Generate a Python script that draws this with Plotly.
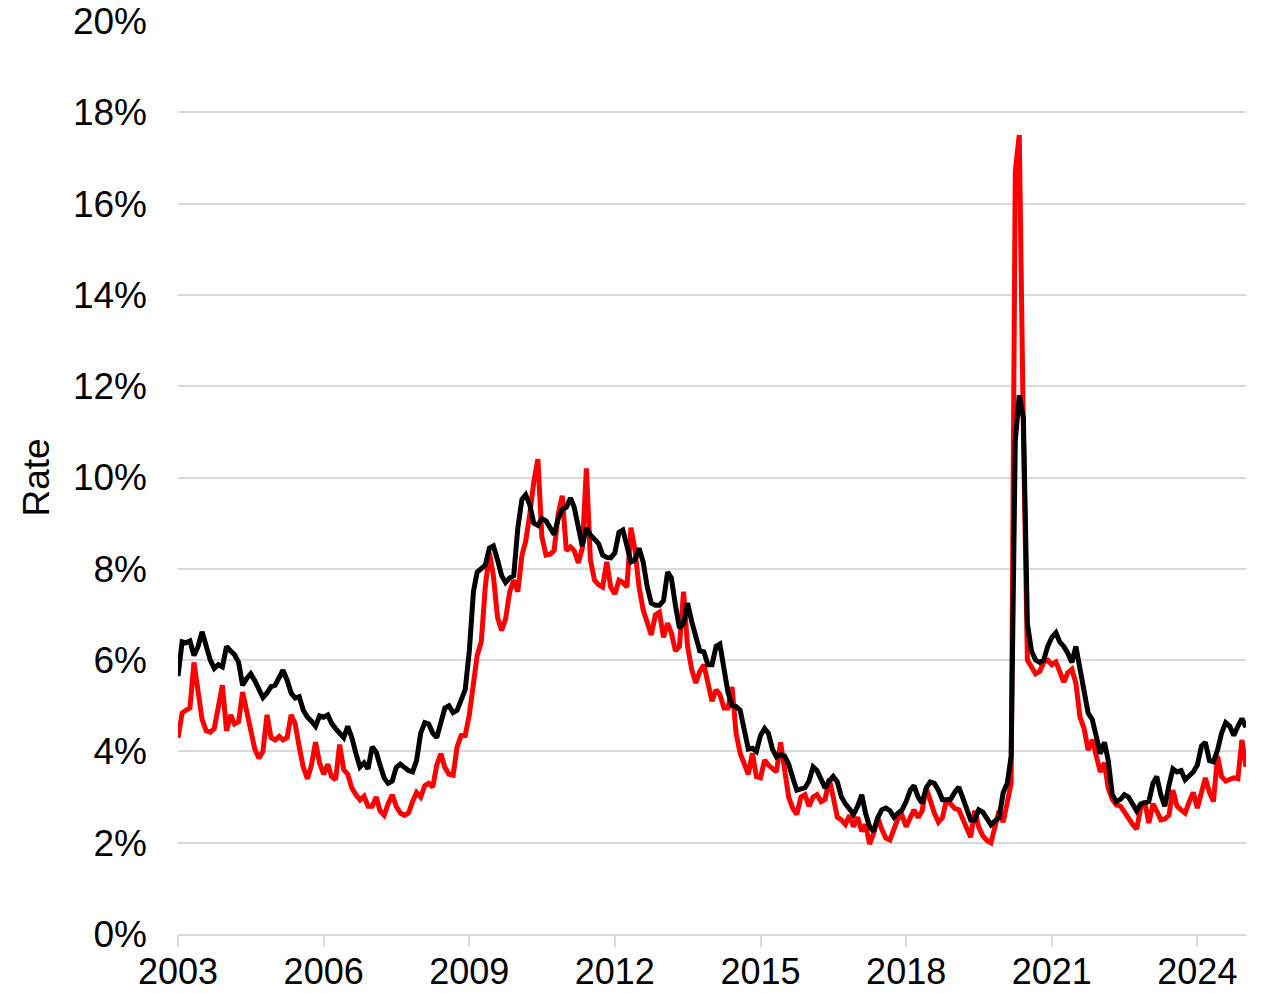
import pandas as pd
import plotly.graph_objects as go

start_month = "2003-01-01"

black_rate = [
    5.65, 6.4, 6.38, 6.42, 6.1, 6.3, 6.62, 6.3, 6.0, 5.82, 5.9, 5.85,
    6.3, 6.2, 6.12, 5.95, 5.45, 5.6, 5.7, 5.55, 5.35, 5.18, 5.28, 5.42,
    5.45, 5.62, 5.78, 5.56, 5.28, 5.17, 5.2, 4.9, 4.75, 4.66, 4.55, 4.78,
    4.75, 4.8, 4.62, 4.5, 4.4, 4.3, 4.55, 4.3, 3.95, 3.66, 3.75, 3.62,
    4.1, 3.98, 3.7, 3.42, 3.3, 3.35, 3.65, 3.72, 3.65, 3.58, 3.55, 3.8,
    4.4, 4.63, 4.6, 4.4, 4.3, 4.6, 4.95, 5.0, 4.85, 4.9, 5.15, 5.35,
    6.2, 7.5, 7.93, 8.0, 8.08, 8.45, 8.5, 8.2, 7.85, 7.7, 7.8, 7.85,
    8.9, 9.52, 9.62, 9.4, 9.0, 8.95, 9.1, 9.05, 8.9, 8.75, 9.1, 9.3,
    9.35, 9.55, 9.35, 8.9, 8.5, 8.9, 8.74, 8.65, 8.55, 8.3, 8.25, 8.24,
    8.35, 8.8, 8.85, 8.5, 8.15, 8.2, 8.45, 8.15, 7.6, 7.25, 7.2, 7.2,
    7.3, 7.93, 7.8, 7.2, 6.7, 6.8, 7.25, 6.85, 6.5, 6.2, 6.18, 5.9,
    5.9, 6.3, 6.35, 5.75, 5.3, 5.0, 4.98, 4.9, 4.4, 4.05, 4.07, 4.0,
    4.35, 4.5, 4.4, 4.05, 3.88, 3.93, 3.9, 3.72, 3.42, 3.15, 3.18, 3.2,
    3.35, 3.66, 3.58, 3.4, 3.2, 3.35, 3.45, 3.33, 3.0, 2.85, 2.75, 2.62,
    2.8, 3.05, 2.65, 2.35, 2.25, 2.55, 2.72, 2.76, 2.7, 2.56, 2.65, 2.72,
    2.9, 3.15, 3.25, 3.0, 2.87, 3.2, 3.33, 3.3, 3.15, 2.94, 2.94, 2.95,
    3.1, 3.22, 3.0, 2.78, 2.5, 2.5, 2.72, 2.67, 2.5, 2.39, 2.48, 2.55,
    3.1, 3.3, 3.9, 10.8, 11.8, 11.3, 6.8, 6.2, 6.0, 5.95, 6.0, 6.3,
    6.5, 6.6, 6.4, 6.3, 6.15, 5.95, 6.3, 5.8, 5.45, 4.84, 4.7, 4.3,
    3.95, 4.2, 3.81, 3.05, 2.9, 2.95, 3.05, 3.0, 2.85, 2.7, 2.85, 2.88,
    2.9, 3.3, 3.45, 3.05, 2.8, 3.25, 3.62, 3.55, 3.58, 3.38, 3.45, 3.55,
    3.7, 4.12, 4.2, 3.8, 3.77, 4.03, 4.4, 4.63, 4.55, 4.35, 4.55, 4.72,
    4.53,
]

red_rate = [
    4.3, 4.84, 4.9, 4.95, 5.95, 5.35, 4.7, 4.45, 4.42, 4.5, 5.0, 5.45,
    4.45, 4.8, 4.6, 4.65, 5.3, 4.9, 4.5, 4.05, 3.85, 4.0, 4.8, 4.3,
    4.25, 4.33, 4.25, 4.3, 4.8, 4.6, 4.1, 3.65, 3.4, 3.7, 4.2, 3.75,
    3.5, 3.72, 3.45, 3.38, 4.15, 3.6, 3.5, 3.2, 3.05, 2.94, 3.02, 2.8,
    2.8, 3.0, 2.7, 2.6, 2.85, 3.05, 2.8, 2.65, 2.6, 2.65, 2.9, 3.1,
    3.0, 3.25, 3.3, 3.22, 3.7, 3.95, 3.65, 3.5, 3.48, 4.1, 4.35, 4.35,
    4.8, 5.6, 6.1, 6.4, 7.6, 8.35, 7.85, 6.94, 6.65, 6.9, 7.5, 7.75,
    7.5, 8.3, 8.6, 9.2, 9.9, 10.4, 8.7, 8.3, 8.32, 8.4, 9.2, 9.6,
    8.4, 8.48, 8.4, 8.13, 8.45, 10.2, 8.2, 7.75, 7.65, 7.6, 8.15, 7.6,
    7.45, 7.75, 7.7, 7.6, 8.9, 8.4, 7.6, 7.1, 6.8, 6.55, 6.99, 7.05,
    6.5, 6.81, 6.6, 6.2, 6.3, 7.5, 6.3, 5.8, 5.5, 5.75, 5.9, 5.5,
    5.1, 5.35, 5.25, 4.95, 4.95, 5.41, 4.4, 3.96, 3.75, 3.5, 3.96, 3.45,
    3.42, 3.81, 3.7, 3.62, 3.55, 4.2, 3.6, 3.0, 2.75, 2.62, 3.0, 3.05,
    2.8, 3.0, 3.05, 2.9, 2.95, 3.4, 3.0, 2.56, 2.5, 2.4, 2.6, 2.35,
    2.56, 2.25, 2.4, 1.97, 2.2, 2.55, 2.3, 2.1, 2.06, 2.3, 2.54, 2.6,
    2.35, 2.55, 2.72, 2.55, 2.7, 3.2, 2.89, 2.65, 2.45, 2.55, 2.95, 2.85,
    2.75, 2.72, 2.55, 2.3, 2.12, 2.7, 2.34, 2.15, 2.05, 2.0, 2.4, 2.7,
    2.45, 2.87, 3.3, 16.7, 17.5, 11.0, 6.0, 5.85, 5.7, 5.75, 5.95, 6.0,
    5.9, 5.96, 5.75, 5.52, 5.72, 5.8, 5.5, 4.75, 4.5, 4.03, 4.25, 3.88,
    3.55, 3.75, 3.2, 2.95, 2.83, 2.8, 2.65, 2.54, 2.4, 2.3, 2.76, 2.9,
    2.43, 2.85, 2.7, 2.5, 2.52, 2.6, 3.15, 2.8, 2.72, 2.65, 2.9, 3.1,
    2.76, 3.1, 3.42, 3.1, 2.9, 3.9, 3.45, 3.35, 3.4, 3.42, 3.4, 4.25,
    3.66,
]

months = pd.date_range(start_month, periods=len(black_rate), freq="MS")

FONT = "Liberation Sans, Arial, sans-serif"
GRID = "#d9d9d9"
FS = 37
FSX = 36

fig = go.Figure()
fig.add_trace(go.Scatter(x=months, y=red_rate, mode="lines",
                         line=dict(color="#ff0000", width=5), name="Red"))
fig.add_trace(go.Scatter(x=months, y=black_rate, mode="lines",
                         line=dict(color="#000000", width=5), name="Black"))

fig.update_layout(
    width=1261, height=993,
    margin=dict(l=178, r=15, t=21, b=59, autoexpand=False),
    paper_bgcolor="white", plot_bgcolor="white",
    showlegend=False,
    font=dict(family=FONT, size=FS, color="black"),
)
fig.update_xaxes(
    type="date",
    range=["2003-01-01", "2025-01-01"],
    tick0="2003-01-01", dtick="M36", tickformat="%Y",
    showgrid=False, zeroline=False,
    showline=True, linecolor=GRID, linewidth=2,
    ticks="outside", tickcolor=GRID, tickwidth=2, ticklen=11,
    ticklabelstandoff=-6,
    tickfont=dict(family=FONT, size=FSX, color="black"),
    automargin=False,
)
fig.update_yaxes(
    range=[0, 20], dtick=2, ticksuffix="%",
    showgrid=True, gridcolor=GRID, gridwidth=2,
    zeroline=False, showline=False, ticks="",
    ticklabelstandoff=30,
    tickfont=dict(family=FONT, size=FS, color="black"),
    title=dict(text="Rate", font=dict(family=FONT, size=FS, color="black"), standoff=11),
    automargin=False,
)

fig.write_html(
    "out.html",
    config={"displayModeBar": False},
    post_script="document.body.style.margin='0';document.body.style.overflow='hidden';",
)
